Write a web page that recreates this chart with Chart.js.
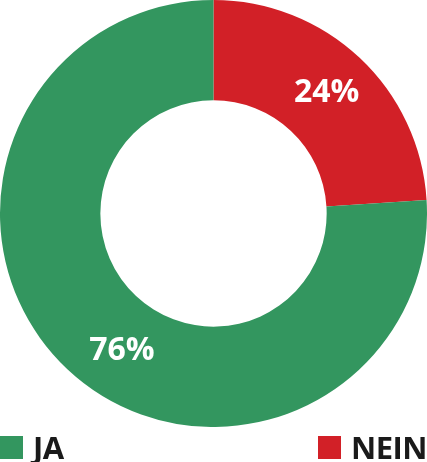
<!DOCTYPE html>
<html>
<head>
<meta charset="utf-8">
<script src="https://cdn.jsdelivr.net/npm/chart.js@4"></script>
<style>
  html, body { margin: 0; padding: 0; background: #fff; }
  #wrap { position: relative; width: 427px; height: 462px; }
  #c { position: absolute; left: 0; top: 0; }
  .leg { position: absolute; top: 432px; height: 30px; display: flex; align-items: center;
         font-family: "Open Sans", sans-serif; font-weight: 700; font-size: 31px; color: #1a1a1a;
         letter-spacing: -0.5px; }
  .leg span.box { display: inline-block; width: 23px; height: 23px; margin-right: 10px; }
</style>
</head>
<body>
<div id="wrap">
  <canvas id="c" width="427" height="427"></canvas>
  <div class="leg" id="legJa" style="left:0px;"></div>
  <div class="leg" id="legNein" style="left:318px;"></div>
</div>
<script>
// order drawn clockwise from the top
const labels = ["NEIN", "JA"];
const values = [24, 76];
const colors = ["#d22027", "#33965f"];
// where along each slice the percent label sits (0 = start, 1 = end)
const labelPos = [0.5, 0.465];

document.getElementById("legJa").innerHTML =
  '<span class="box" style="background:' + colors[1] + '"></span>' + labels[1];
document.getElementById("legNein").innerHTML =
  '<span class="box" style="background:' + colors[0] + '"></span>' + labels[0];

const pctLabels = {
  id: "pctLabels",
  afterDatasetsDraw(chart) {
    const ctx = chart.ctx;
    const meta = chart.getDatasetMeta(0);
    ctx.save();
    ctx.fillStyle = "#fff";
    ctx.font = '700 32px "Open Sans", sans-serif';
    ctx.textAlign = "center";
    ctx.textBaseline = "middle";
    meta.data.forEach((arc, i) => {
      const p = arc.getProps(["x", "y", "startAngle", "endAngle", "innerRadius", "outerRadius"], true);
      const a = p.startAngle + (p.endAngle - p.startAngle) * labelPos[i];
      const r = (p.innerRadius + p.outerRadius) / 2 + 2;
      ctx.fillText(values[i] + "%", p.x + Math.cos(a) * r, p.y + Math.sin(a) * r);
    });
    ctx.restore();
  }
};

new Chart(document.getElementById("c"), {
  type: "doughnut",
  data: {
    labels: labels,
    datasets: [{
      data: values,
      backgroundColor: colors,
      borderWidth: 0,
      hoverOffset: 0
    }]
  },
  options: {
    responsive: false,
    animation: false,
    cutout: "53%",
    layout: { padding: 0 },
    plugins: {
      legend: { display: false },
      tooltip: { enabled: false }
    }
  },
  plugins: [pctLabels]
});
</script>
</body>
</html>
